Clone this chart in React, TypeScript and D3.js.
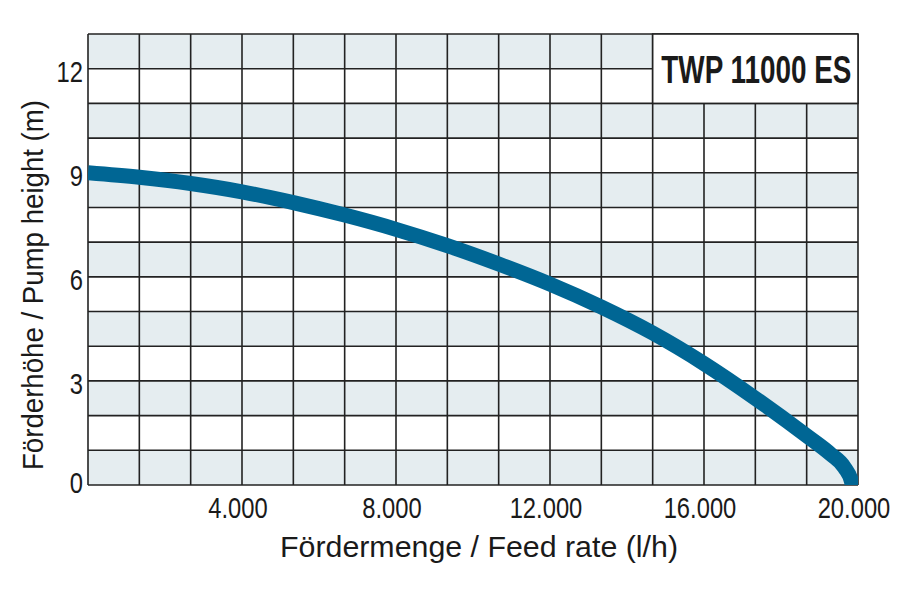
import React from "react";
import * as d3 from "d3";

const flowRate = [0, 1333, 2667, 4000, 5333, 6667, 8000, 9333, 10667, 12000, 13333, 14667, 16000, 17333, 18667, 19300, 19650, 19830, 19880];
const pumpHeight = [9.0, 8.87, 8.69, 8.45, 8.14, 7.78, 7.37, 6.9, 6.37, 5.79, 5.13, 4.38, 3.5, 2.5, 1.42, 0.88, 0.5, 0.1, -0.3];

const xTickValues = [4000, 8000, 12000, 16000, 20000];
const xTickLabels = ["4.000", "8.000", "12.000", "16.000", "20.000"];
const yTickValues = [0, 3, 6, 9, 12];
const yTickLabels = ["0", "3", "6", "9", "12"];

const title = "TWP 11000 ES";
const xTitle = "Fördermenge / Feed rate (l/h)";
const yTitle = "Förderhöhe / Pump height (m)";

const W = 900, H = 600;
const left = 88, right = 858, top = 34, bottom = 485;
const FONT = "'Liberation Sans', Arial, sans-serif";
const NARROW = 0.82;

export default function App() {
  const x = d3.scaleLinear().domain([0, 20000]).range([left, right]);
  const y = d3.scaleLinear().domain([0, 13]).range([bottom, top]);
  const colStep = 20000 / 15;
  const cols = d3.range(0, 16).map((i) => i * colStep);
  const rows = d3.range(0, 14);
  const shadedRows = d3.range(0, 13, 2);

  const pts: [number, number][] = flowRate.map((f, i) => [f, pumpHeight[i]]);
  const line = d3
    .line<[number, number]>()
    .x((d) => x(d[0]))
    .y((d) => y(d[1]))
    .curve(d3.curveMonotoneX);

  const boxX0 = x(11 * colStep), boxX1 = x(20000), boxY0 = y(13), boxY1 = y(11);

  return (
    <svg width={W} height={H} style={{ position: "absolute", left: 0, top: 0, background: "#fff" }} fontFamily={FONT}>
      <defs>
        <clipPath id="plotClip">
          <rect x={left} y={top} width={right - left} height={bottom - top} />
        </clipPath>
      </defs>
      {shadedRows.map((r) => (
        <rect key={"s" + r} x={left} y={y(r + 1)} width={right - left} height={y(r) - y(r + 1)} fill="#e5edf0" />
      ))}
      {cols.map((c, i) => (
        <line key={"v" + i} x1={x(c)} x2={x(c)} y1={top} y2={bottom} stroke="#222" strokeWidth={1.6} />
      ))}
      {rows.map((r) => (
        <line key={"h" + r} x1={left} x2={right} y1={y(r)} y2={y(r)} stroke="#222" strokeWidth={1.6} />
      ))}
      <rect x={boxX0} y={boxY0} width={boxX1 - boxX0} height={boxY1 - boxY0} fill="#fff" stroke="#222" strokeWidth={1.6} />
      <text
        x={(boxX0 + boxX1) / 2 + 1}
        y={(boxY0 + boxY1) / 2 + 14}
        textAnchor="middle"
        fontWeight="bold"
        fontSize={39}
        fill="#1a1a1a"
        textLength={190}
        lengthAdjust="spacingAndGlyphs"
      >
        {title}
      </text>
      <path d={line(pts) || ""} fill="none" stroke="#006694" strokeWidth={15} clipPath="url(#plotClip)" />
      {yTickValues.map((v, i) => (
        <text
          key={"yt" + v}
          transform={`translate(83, ${Math.min(y(v) + 13, bottom + 8)}) scale(${NARROW},1)`}
          textAnchor="end"
          fontSize={29}
          fill="#1a1a1a"
        >
          {yTickLabels[i]}
        </text>
      ))}
      {xTickValues.map((v, i) => (
        <text
          key={"xt" + v}
          transform={`translate(${x(v) - 4}, 518) scale(${NARROW},1)`}
          textAnchor="middle"
          fontSize={29}
          fill="#1a1a1a"
        >
          {xTickLabels[i]}
        </text>
      ))}
      <text x={479} y={557} textAnchor="middle" fontSize={30} fill="#1a1a1a" textLength={398} lengthAdjust="spacingAndGlyphs">
        {xTitle}
      </text>
      <text
        transform={`translate(43, 285) rotate(-90)`}
        textAnchor="middle"
        fontSize={30}
        fill="#1a1a1a"
        textLength={370}
        lengthAdjust="spacingAndGlyphs"
      >
        {yTitle}
      </text>
    </svg>
  );
}
